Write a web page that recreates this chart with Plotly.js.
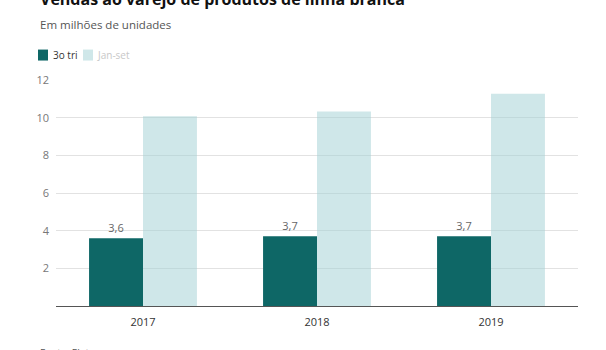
<!DOCTYPE html>
<html>
<head>
<meta charset="utf-8">
<script src="https://cdn.plot.ly/plotly-3.0.1.min.js"></script>
<style>html,body{margin:0;padding:0;background:#fff;}#chart{width:606px;height:350px;}</style>
</head>
<body>
<div id="chart"></div>
<script>
const years = ['2017', '2018', '2019'];
const terceiroTri = [3.6, 3.7, 3.7];
const janSet = [10.07, 10.33, 11.27];
const seriesNames = ['3o tri', 'Jan-set'];
const seriesColors = ['#0e6766', 'rgba(160,208,212,0.5)'];
const yTicks = [2, 4, 6, 8, 10, 12];

// pixel helpers for the plot area (l=56, width=522, top=79.5, bottom=306)
const PL = 56, PW = 522, PB = 306, PH = 226.5;
const px = v => (v - PL) / PW;
const py = v => (PB - v) / PH;

const traces = [
  {
    type: 'bar', x: years, y: terceiroTri, name: seriesNames[0],
    marker: {color: seriesColors[0], line: {width: 0}},
    text: terceiroTri.map(v => v.toFixed(1).replace('.', ',')),
    textposition: 'outside', cliponaxis: false,
    textfont: {family: 'Open Sans', size: 11, color: '#666'},
    hoverinfo: 'none'
  },
  {
    type: 'bar', x: years, y: janSet, name: seriesNames[1],
    marker: {color: seriesColors[1], line: {width: 0}},
    hoverinfo: 'none'
  }
];

const layout = {
  width: 606, height: 350,
  margin: {l: 56, r: 28, t: 79.5, b: 44},
  paper_bgcolor: '#fff', plot_bgcolor: '#fff',
  font: {family: 'Open Sans', color: '#333'},
  separators: ',.',
  barmode: 'group', bargap: 0.38, bargroupgap: 0,
  showlegend: false,
  xaxis: {
    type: 'category', showline: true, linecolor: '#555', linewidth: 1,
    showgrid: false, ticks: '', tickfont: {size: 11, color: '#333'},
    ticklabelstandoff: 6, fixedrange: true
  },
  yaxis: {
    range: [0, 12], tickvals: yTicks, showgrid: true, gridcolor: '#e2e2e2',
    gridwidth: 1, zeroline: false, showline: false, ticks: '',
    tickfont: {size: 11, color: '#777'}, ticklabelstandoff: 6, fixedrange: true
  },
  shapes: [
    {type: 'rect', xref: 'paper', yref: 'paper', x0: px(38), x1: px(48), y0: py(49), y1: py(60),
     fillcolor: seriesColors[0], line: {width: 0}},
    {type: 'rect', xref: 'paper', yref: 'paper', x0: px(83), x1: px(93), y0: py(49), y1: py(60),
     fillcolor: seriesColors[1], line: {width: 0}}
  ],
  annotations: [
    {text: '<b>Vendas ao varejo de produtos de linha branca</b>', xref: 'paper', yref: 'paper',
     x: px(38), y: py(-2), xanchor: 'left', yanchor: 'middle', showarrow: false,
     font: {family: 'Open Sans', size: 16, color: '#111'}},
    {text: 'Em milhões de unidades', xref: 'paper', yref: 'paper',
     x: px(38), y: py(24), xanchor: 'left', yanchor: 'middle', showarrow: false,
     font: {family: 'Open Sans', size: 11.5, color: '#555'}},
    {text: seriesNames[0], xref: 'paper', yref: 'paper',
     x: px(51), y: py(54.5), xanchor: 'left', yanchor: 'middle', showarrow: false,
     font: {family: 'Open Sans', size: 10, color: '#333'}},
    {text: seriesNames[1], xref: 'paper', yref: 'paper',
     x: px(95), y: py(54.5), xanchor: 'left', yanchor: 'middle', showarrow: false,
     font: {family: 'Open Sans', size: 10, color: '#c8c8c8'}},
    {text: 'Fonte: Eletros', xref: 'paper', yref: 'paper',
     x: px(38), y: py(353), xanchor: 'left', yanchor: 'middle', showarrow: false,
     font: {family: 'Open Sans', size: 10, color: '#555'}}
  ]
};

Plotly.newPlot('chart', traces, layout, {staticPlot: true, displayModeBar: false});
</script>
</body>
</html>
